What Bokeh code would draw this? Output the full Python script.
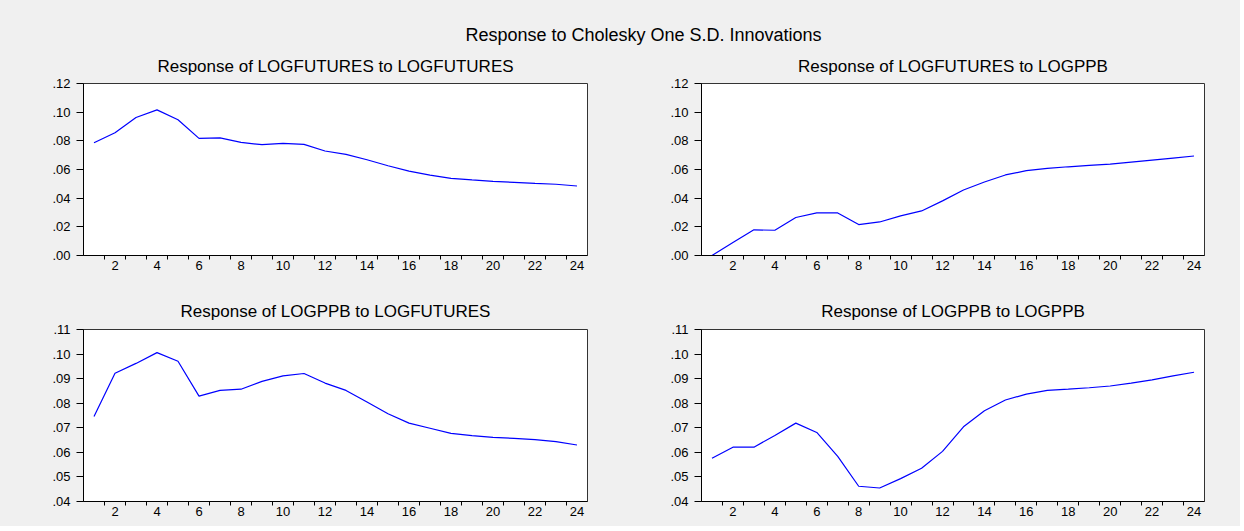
from bokeh.plotting import figure
from bokeh.layouts import column, row
from bokeh.models import Range1d, FixedTicker, CustomJSTickFormatter, Label
from bokeh.embed import file_html
from bokeh.resources import INLINE

periods = list(range(1, 25))

fut_to_fut = [0.0787, 0.0856, 0.0963, 0.1016, 0.0947, 0.0817, 0.0821, 0.0789,
              0.0773, 0.0782, 0.0775, 0.0729, 0.0705, 0.0668, 0.0626, 0.0589,
              0.0561, 0.0538, 0.0527, 0.0517, 0.0510, 0.0503, 0.0497, 0.0485]
fut_to_ppb = [0.0000, 0.0090, 0.0179, 0.0176, 0.0265, 0.0297, 0.0297, 0.0216,
              0.0234, 0.0276, 0.0311, 0.0381, 0.0457, 0.0513, 0.0562, 0.0592,
              0.0608, 0.0619, 0.0629, 0.0638, 0.0652, 0.0666, 0.0680, 0.0694]
ppb_to_fut = [0.0746, 0.0922, 0.0962, 0.1006, 0.0971, 0.0829, 0.0852, 0.0857,
              0.0889, 0.0911, 0.0921, 0.0882, 0.0852, 0.0805, 0.0757, 0.0719,
              0.0698, 0.0677, 0.0668, 0.0661, 0.0657, 0.0652, 0.0644, 0.0630]
ppb_to_ppb = [0.0576, 0.0621, 0.0621, 0.0669, 0.0719, 0.0681, 0.0584, 0.0462,
              0.0455, 0.0493, 0.0535, 0.0604, 0.0704, 0.0769, 0.0813, 0.0837,
              0.0852, 0.0857, 0.0863, 0.0870, 0.0882, 0.0895, 0.0911, 0.0926]

main_title = "Response to Cholesky One S.D. Innovations"
titles = ["Response of LOGFUTURES to LOGFUTURES",
          "Response of LOGFUTURES to LOGPPB",
          "Response of LOGPPB to LOGFUTURES",
          "Response of LOGPPB to LOGPPB"]
x_labels = [2, 4, 6, 8, 10, 12, 14, 16, 18, 20, 22, 24]
y_ticks_top = [0.00, 0.02, 0.04, 0.06, 0.08, 0.10, 0.12]
y_ticks_bottom = [0.04, 0.05, 0.06, 0.07, 0.08, 0.09, 0.10, 0.11]

FONT = "Liberation Sans"
BG = "#f0f0f0"


def panel(title, values, yticks, width, height, bl, br, bt, bb, standoff):
    p = figure(width=width, height=height, output_backend="svg",
               toolbar_location=None,
               x_range=Range1d(0.5, 24.5),
               y_range=Range1d(yticks[0], yticks[-1]),
               min_border_left=bl, min_border_right=br,
               min_border_top=bt, min_border_bottom=bb,
               background_fill_color="white", border_fill_color=BG,
               outline_line_color="#333333", outline_line_width=1)
    p.title.text = title
    p.title.align = "center"
    p.title.text_font = FONT
    p.title.text_font_size = "17px"
    p.title.text_font_style = "normal"
    p.title.text_color = "black"
    p.title.standoff = standoff
    p.grid.visible = False

    xa = p.xaxis[0]
    xa.ticker = FixedTicker(ticks=x_labels,
                            minor_ticks=[k + 0.5 for k in periods[:-1]])
    xa.major_tick_line_color = None
    xa.major_tick_out = 4
    xa.major_tick_in = 0
    xa.minor_tick_line_color = "black"
    xa.minor_tick_out = 4
    xa.minor_tick_in = 0
    xa.axis_line_color = "black"
    xa.major_label_text_font = FONT
    xa.major_label_text_font_size = "13px"
    xa.major_label_text_color = "black"
    xa.major_label_standoff = 1

    ya = p.yaxis[0]
    ya.ticker = FixedTicker(ticks=yticks)
    ya.formatter = CustomJSTickFormatter(
        code="return tick.toFixed(2).replace(/^0/, '');")
    ya.major_tick_out = 7
    ya.major_tick_in = 0
    ya.minor_tick_line_color = None
    ya.major_tick_line_color = "black"
    ya.axis_line_color = "black"
    ya.major_label_text_font = FONT
    ya.major_label_text_font_size = "13px"
    ya.major_label_text_color = "black"
    ya.major_label_standoff = 6

    p.line(periods, values, line_color="#0000ff", line_width=1.2)
    return p


head = figure(width=1240, height=45, output_backend="svg",
              toolbar_location=None, x_range=Range1d(0, 1240),
              y_range=Range1d(0, 45), min_border=0,
              background_fill_color=BG, border_fill_color=BG,
              outline_line_color=None)
head.axis.visible = False
head.grid.visible = False
head.add_layout(Label(x=643, y=11, text=main_title, text_align="center",
                      text_baseline="middle", text_font=FONT,
                      text_font_size="18px", text_color="black"))

p1 = panel(titles[0], fut_to_fut, y_ticks_top, 640, 244, 83, 53, 38, 34, 16)
p2 = panel(titles[1], fut_to_ppb, y_ticks_top, 600, 244, 61, 36, 38, 34, 16)
p3 = panel(titles[2], ppb_to_fut, y_ticks_bottom, 640, 237, 83, 53, 40, 25, 18)
p4 = panel(titles[3], ppb_to_ppb, y_ticks_bottom, 600, 237, 61, 36, 40, 25, 18)

layout = column(head, row(p1, p2, spacing=0), row(p3, p4, spacing=0),
                spacing=0, styles={"background-color": BG})

open("out.html", "w").write(file_html(layout, INLINE))
